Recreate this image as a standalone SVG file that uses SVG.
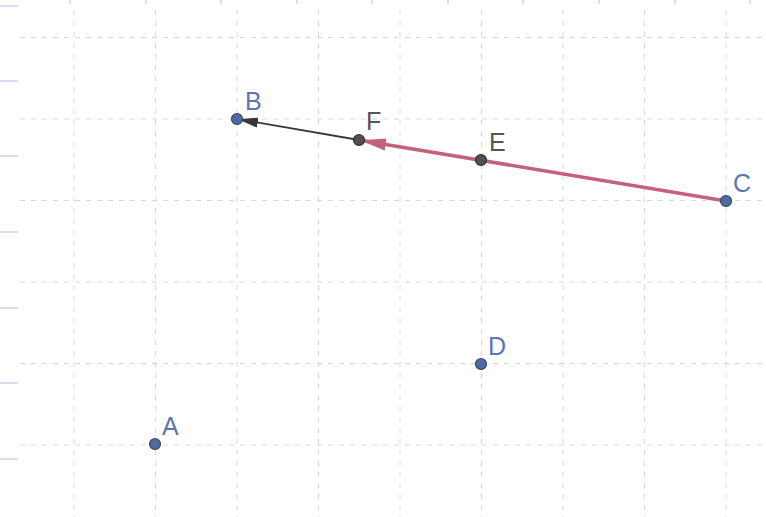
<svg xmlns="http://www.w3.org/2000/svg" width="766" height="517" viewBox="0 0 766 517">
<style>
.grid line{stroke:#d8d8d8;stroke-width:1;stroke-dasharray:5 6}
.tick line{stroke:#b4bde4;stroke-width:1}
.ptb{fill:#4f6aa3;stroke:#3a4660;stroke-width:1.2}
.ptg{fill:#505050;stroke:#303030;stroke-width:1.2}
.lb{font-family:"Liberation Sans",Arial,sans-serif;font-size:25px;fill:#5a76b4}
.lg{font-family:"Liberation Sans",Arial,sans-serif;font-size:25px;fill:#555}
</style>
<defs>
<marker id="hr" markerUnits="userSpaceOnUse" markerWidth="26" markerHeight="14" viewBox="0 0 26 14" refX="26" refY="7" orient="auto">
<path d="M0,1 L26,7 L0,13 z" fill="#c4627a"/>
</marker>
<marker id="hk" markerUnits="userSpaceOnUse" markerWidth="20" markerHeight="12" viewBox="0 0 20 12" refX="20" refY="6" orient="auto">
<path d="M0,1 L20,6 L0,11 z" fill="#383838"/>
</marker>
</defs>
<rect width="766" height="517" fill="#ffffff"/>
<g class="grid">
<line x1="74" y1="10" x2="74" y2="517"/>
<line x1="155.5" y1="10" x2="155.5" y2="517"/>
<line x1="237" y1="10" x2="237" y2="517"/>
<line x1="318.5" y1="10" x2="318.5" y2="517"/>
<line x1="400" y1="10" x2="400" y2="517"/>
<line x1="481.5" y1="10" x2="481.5" y2="517"/>
<line x1="563" y1="10" x2="563" y2="517"/>
<line x1="644.5" y1="10" x2="644.5" y2="517"/>
<line x1="726" y1="10" x2="726" y2="517"/>
<line x1="20" y1="37.5" x2="766" y2="37.5"/>
<line x1="20" y1="119" x2="766" y2="119"/>
<line x1="20" y1="200.5" x2="766" y2="200.5"/>
<line x1="20" y1="282" x2="766" y2="282"/>
<line x1="20" y1="363.5" x2="766" y2="363.5"/>
<line x1="20" y1="445" x2="766" y2="445"/>
</g>
<g class="tick">
<line x1="70" y1="0" x2="70" y2="4"/>
<line x1="146" y1="0" x2="146" y2="4"/>
<line x1="221" y1="0" x2="221" y2="4"/>
<line x1="297" y1="0" x2="297" y2="4"/>
<line x1="372" y1="0" x2="372" y2="4"/>
<line x1="448" y1="0" x2="448" y2="4"/>
<line x1="523" y1="0" x2="523" y2="4"/>
<line x1="599" y1="0" x2="599" y2="4"/>
<line x1="675" y1="0" x2="675" y2="4"/>
<line x1="750" y1="0" x2="750" y2="4"/>
<line x1="0" y1="6" x2="18" y2="6"/>
<line x1="0" y1="81" x2="18" y2="81"/>
<line x1="0" y1="156" x2="18" y2="156"/>
<line x1="0" y1="232" x2="18" y2="232"/>
<line x1="0" y1="308" x2="18" y2="308"/>
<line x1="0" y1="383" x2="18" y2="383"/>
<line x1="0" y1="459" x2="18" y2="459"/>
</g>
<g id="connectors">
<line id="CF" x1="726" y1="201" x2="360" y2="140.2" stroke="#c4627a" stroke-width="3.5" marker-end="url(#hr)"/>
<line id="FB" x1="359" y1="140" x2="238" y2="119.2" stroke="#383838" stroke-width="1.8" marker-end="url(#hk)"/>
</g>
<g id="A"><circle class="ptb" cx="155" cy="444" r="5.5"/><text class="lb" x="162" y="435">A</text></g>
<g id="B"><circle class="ptb" cx="237" cy="119" r="5.5"/><text class="lb" x="245" y="110">B</text></g>
<g id="C"><circle class="ptb" cx="726" cy="201" r="5.5"/><text class="lb" x="733" y="192">C</text></g>
<g id="D"><circle class="ptb" cx="481" cy="364" r="5.5"/><text class="lb" x="488" y="355">D</text></g>
<g id="E"><circle class="ptg" cx="481" cy="160" r="5.5"/><text class="lg" x="489" y="151">E</text></g>
<g id="F"><circle class="ptg" cx="359" cy="140" r="5.5"/><text class="lg" x="366" y="130">F</text></g>
</svg>
